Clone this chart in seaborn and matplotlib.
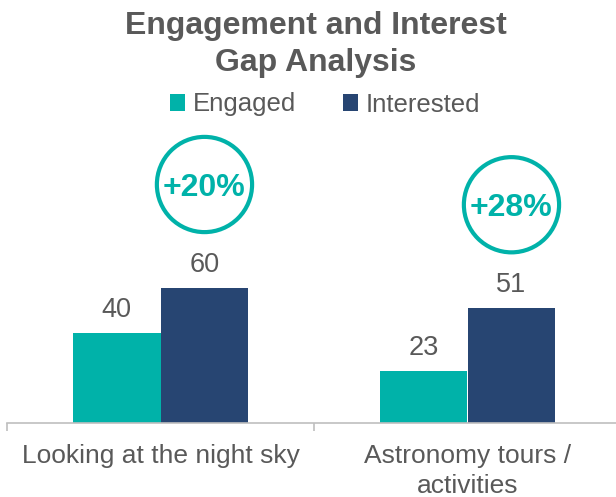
import matplotlib
matplotlib.use("Agg")
import matplotlib.pyplot as plt
import seaborn as sns
import pandas as pd

# Chart data
categories = ["Looking at the night sky", "Astronomy tours /\nactivities"]
series_names = ["Engaged", "Interested"]
engaged = [40, 23]
interested = [60, 51]

title = "Engagement and Interest\nGap Analysis"

TEAL = "#00B2A9"
NAVY = "#274572"
TEXT = "#595959"
AXIS = "#BFBFBF"

sns.set_theme(style="white")
plt.rcParams["font.family"] = ["Liberation Sans", "DejaVu Sans"]

df = pd.DataFrame({
    "category": categories * 2,
    "series": [series_names[0]] * len(categories) + [series_names[1]] * len(categories),
    "value": engaged + interested,
})

fig = plt.figure(figsize=(6.16, 4.97), dpi=100)
ax = fig.add_axes([7 / 616, 74 / 497, 614 / 616, 283.5 / 497])

sns.barplot(
    data=df, x="category", y="value", hue="series",
    order=categories, hue_order=series_names,
    palette=[TEAL, NAVY], saturation=1, width=0.573,
    linewidth=0, ax=ax,
)

ax.set_xlim(-0.5, 1.5)
ax.set_ylim(0, 126)
ax.set_xlabel("")
ax.set_ylabel("")
ax.set_yticks([])

for side in ("top", "right", "left"):
    ax.spines[side].set_visible(False)
ax.spines["bottom"].set_color(AXIS)
ax.spines["bottom"].set_linewidth(1.2)

# Category separators as minor ticks, labels centred under each group
ax.set_xticks([-0.5, 0.5, 1.5], minor=True)
ax.tick_params(axis="x", which="minor", bottom=True, length=6, width=1.2,
               color=AXIS, direction="out")
ax.tick_params(axis="x", which="major", bottom=False, length=0, pad=15,
               labelsize=19, labelcolor=TEXT)
for lbl in ax.get_xticklabels():
    lbl.set_linespacing(1.35)

# Value labels above each bar
for container, values in zip(ax.containers, [engaged, interested]):
    for bar, v in zip(container, values):
        ax.annotate(
            f"{v}", (bar.get_x() + bar.get_width() / 2, v),
            xytext=(0, 11.5), textcoords="offset points",
            ha="center", va="baseline", fontsize=19.5, color=TEXT,
        )

# Gap bubbles above the "Interested" bars
for bar, e, i in zip(ax.containers[1], engaged, interested):
    cx = bar.get_x() + bar.get_width() / 2
    cy = i + 46
    ax.scatter([cx], [cy], s=4700, facecolor="none", edgecolor=TEAL,
               linewidth=3, zorder=5, clip_on=False)
    ax.text(cx, cy, f"+{i - e}%", ha="center", va="center_baseline",
            fontsize=23, fontweight="bold", color=TEAL, zorder=6)

# Legend
sns.move_legend(
    ax, "center", bbox_to_anchor=(325 / 616, 1 - 104.5 / 497),
    bbox_transform=fig.transFigure, ncol=2, frameon=False, title=None,
    fontsize=18.5, handlelength=0.6, handleheight=0.6,
    handletextpad=0.3, columnspacing=1.8,
)
for t in ax.get_legend().get_texts():
    t.set_color(TEXT)

fig.text(316 / 616, 1 - 11 / 497, title, ha="center", va="top",
         fontsize=23, fontweight="bold", color=TEXT, linespacing=1.32)

fig.savefig("out.png", dpi=100)
